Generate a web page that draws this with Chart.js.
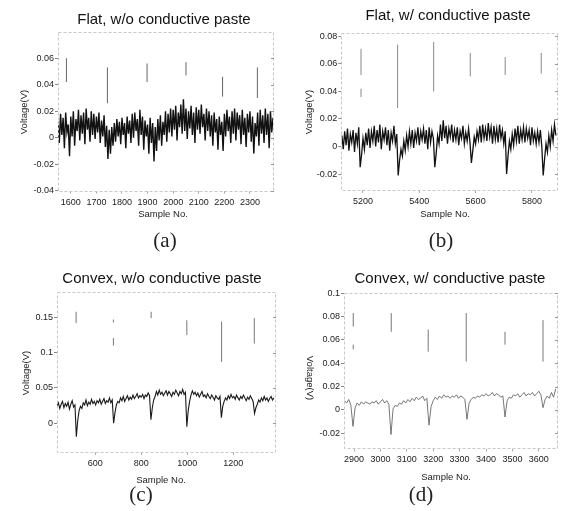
<!DOCTYPE html>
<html><head><meta charset="utf-8">
<script src="https://cdn.jsdelivr.net/npm/chart.js@4/dist/chart.umd.min.js"></script>
<style>
body{margin:0;background:#fff;width:563px;height:511px;position:relative;overflow:hidden;font-family:"Liberation Sans",Arial,sans-serif}
canvas{position:absolute}
.t{position:absolute;transform:translate(-50%,-50%);white-space:nowrap;color:#111;line-height:1}
.title{font-size:15px}
.ax{font-size:9.5px;color:#222}
.vl{transform:translate(-50%,-50%) rotate(-90deg)}
.vr{transform:translate(-50%,-50%) rotate(90deg)}
.lab{font-family:"Liberation Serif","DejaVu Serif",serif;font-size:21px;color:#222}
</style></head>
<body>
<canvas id="ca" width="282" height="250" style="left:0;top:0"></canvas>
<canvas id="cb" width="281" height="250" style="left:282px;top:0"></canvas>
<canvas id="cc" width="282" height="256" style="left:0;top:255px"></canvas>
<canvas id="cd" width="281" height="256" style="left:282px;top:255px"></canvas>

<div class="t title" style="left:164px;top:18px">Flat, w/o conductive paste</div>
<div class="t title" style="left:448px;top:14px">Flat, w/ conductive paste</div>
<div class="t title" style="left:162px;top:277px">Convex, w/o conductive paste</div>
<div class="t title" style="left:450px;top:277px">Convex, w/ conductive paste</div>

<div class="t ax vl" style="left:24px;top:112px">Voltage(V)</div>
<div class="t ax vl" style="left:309px;top:112px">Voltage(V)</div>
<div class="t ax vl" style="left:26px;top:373px">Voltage(V)</div>
<div class="t ax vr" style="left:310px;top:378px">Voltage(V)</div>

<div class="t ax" style="left:163px;top:214px">Sample No.</div>
<div class="t ax" style="left:445px;top:214px">Sample No.</div>
<div class="t ax" style="left:161px;top:480px">Sample No.</div>
<div class="t ax" style="left:446px;top:477px">Sample No.</div>

<div class="t lab" style="left:165px;top:240px">(a)</div>
<div class="t lab" style="left:441px;top:240px">(b)</div>
<div class="t lab" style="left:141px;top:494px">(c)</div>
<div class="t lab" style="left:421px;top:494px">(d)</div>

<script>
// ---------- Panel (a): Flat, w/o conductive paste ----------
const aStart = 1550, aStep = 5;
const aValues = [
0.012,-0.004,0.018,0.002,0.015,-0.008,0.019,0.004,0.010,-0.014,
0.016,0.001,0.020,-0.006,0.014,0.005,0.021,-0.002,0.017,0.003,
0.019,-0.005,0.022,0.006,0.015,-0.003,0.020,0.002,0.018,-0.001,
0.016,0.004,0.019,-0.004,0.013,0.001,0.017,-0.007,0.009,-0.016,
0.006,-0.012,0.008,-0.006,0.011,-0.003,0.014,0.001,0.012,-0.005,
0.015,0.002,0.011,-0.008,0.016,0.003,0.013,-0.004,0.018,0.000,
0.019,0.005,0.014,-0.006,0.021,0.002,0.016,-0.009,0.013,0.001,
0.010,-0.012,0.015,-0.004,0.011,-0.018,0.008,-0.010,0.014,-0.002,
0.017,-0.006,0.012,0.002,0.020,-0.003,0.018,0.004,0.022,0.001,
0.021,0.006,0.024,-0.002,0.019,0.008,0.025,0.003,0.029,0.005,
0.022,-0.001,0.020,0.007,0.024,0.002,0.019,-0.004,0.023,0.006,
0.021,0.003,0.025,0.008,0.018,-0.002,0.022,0.005,0.020,0.001,
0.017,-0.006,0.019,0.004,0.014,-0.009,0.016,0.002,0.012,-0.010,
0.018,0.001,0.021,0.005,0.016,-0.004,0.020,0.003,0.022,-0.002,
0.019,0.006,0.017,-0.005,0.021,0.002,0.015,-0.007,0.018,0.004,
0.020,-0.003,0.016,-0.012,0.011,0.001,0.019,-0.006,0.021,0.003,
0.017,-0.004,0.022,0.002,0.018,-0.008,0.020,0.004,0.015
];
const aSpikes = [[1583,0.042,0.060],[1743,0.026,0.053],[1898,0.042,0.056],[2050,0.047,0.057],[2193,0.031,0.046],[2329,0.030,0.053]];
const aXTicks = [1600,1700,1800,1900,2000,2100,2200,2300];
const aYTicks = [-0.04,-0.02,0,0.02,0.04,0.06];

// ---------- Panel (b): Flat, w/ conductive paste ----------
const bStart = 5125, bStep = 5;
const bValues = [
0.008,-0.002,0.011,0.001,0.013,-0.003,0.009,0.003,0.012,-0.004,
0.010,0.002,0.014,-0.015,-0.006,0.006,-0.002,0.010,0.001,0.013,
-0.001,0.011,0.004,0.015,0.000,0.012,0.003,0.016,-0.002,0.011,
0.005,0.014,0.001,0.012,-0.003,0.010,0.004,0.015,0.002,0.009,
-0.021,-0.010,-0.002,-0.007,0.004,-0.003,0.008,0.000,0.011,0.002,
0.012,-0.001,0.010,0.004,0.014,0.001,0.011,0.005,0.013,0.002,
0.012,-0.002,0.014,0.003,0.011,0.006,-0.015,-0.005,0.008,0.002,
0.016,0.004,0.019,0.006,0.015,0.002,0.013,0.007,0.016,0.003,
0.012,0.005,0.014,0.001,0.011,0.006,0.015,0.002,0.010,0.004,
0.013,0.003,-0.012,-0.003,0.007,0.002,0.011,0.005,0.015,0.003,
0.016,0.006,0.013,0.004,0.017,0.007,0.014,0.002,0.015,0.005,
0.013,0.003,0.016,0.006,0.012,0.002,0.011,-0.020,-0.007,0.004,
-0.002,0.009,0.001,0.013,0.004,0.015,0.002,0.012,0.005,0.014,
0.003,0.013,0.006,0.012,0.001,0.014,0.004,0.010,0.002,0.011,
0.003,0.012,0.000,-0.021,-0.009,0.002,-0.004,0.008,0.000,0.012,
0.004,0.016,0.008
];
const bSpikes = [[5193,0.052,0.071],[5193,0.036,0.042],[5323,0.028,0.074],[5451,0.040,0.076],[5581,0.051,0.068],[5705,0.052,0.065],[5833,0.053,0.068]];
const bXTicks = [5200,5400,5600,5800];
const bYTicks = [-0.02,0,0.02,0.04,0.06,0.08];

// ---------- Panel (c): Convex, w/o conductive paste ----------
const cStart = 434, cStep = 6;
const cValues = [
0.024,0.029,0.021,0.027,0.031,0.022,0.028,0.024,0.030,0.020,0.027,0.032,0.023,0.026,
-0.019,
0.004,0.018,0.024,0.021,0.029,
0.026,0.033,0.025,0.030,0.027,0.034,0.028,0.031,0.026,0.032,
0.029,0.034,0.027,0.031,0.035,0.028,0.032,0.030,0.036,0.029,0.033,
0.000,
0.015,0.026,0.031,0.029,0.036,0.032,0.038,0.031,
0.035,0.039,0.033,0.037,0.034,0.040,0.035,0.038,0.042,0.036,
0.039,0.037,0.041,0.035,0.040,0.038,0.043,0.039,
0.005,
0.022,0.033,0.038,0.045,0.040,0.047,0.041,0.044,0.039,0.043,0.046,
0.040,0.045,0.042,0.038,0.044,0.041,0.047,0.043,0.039,0.045,0.042,0.048,0.041,0.044,
-0.005,
0.018,0.031,0.040,0.046,0.041,
0.044,0.039,0.043,0.037,0.041,0.045,0.038,0.040,0.036,0.042,0.038,0.035,0.040,0.037,0.033,0.039,0.036,0.034,0.038,
0.008,
0.024,0.031,0.036,0.033,0.039,0.035,0.041,0.036,0.038,0.034,0.040,0.036,0.033,0.038,0.035,0.040,0.036,0.032,0.037,0.034,0.039,0.035,0.031,
0.014,
0.022,0.027,0.033,0.030,0.036,0.032,0.038,0.033,0.036,0.031,0.035,0.038,0.033,0.036
];
const cSpikes = [[517,0.142,0.158],[679,0.143,0.147],[679,0.110,0.121],[843,0.149,0.158],[998,0.125,0.146],[1149,0.087,0.144],[1291,0.113,0.149]];
const cXTicks = [600,800,1000,1200];
const cYTicks = [0,0.05,0.1,0.15];

// ---------- Panel (d): Convex, w/ conductive paste ----------
const dStart = 2864, dStep = 8;
const dValues = [
0.008,0.006,0.009,0.004,
-0.014,
0.002,0.006,0.004,0.007,0.005,0.007,0.006,0.005,0.007,0.006,0.008,0.005,0.007,0.009,0.006,0.008,0.005,
-0.021,
0.001,0.004,0.003,0.006,0.005,0.008,0.006,0.009,0.007,0.010,0.008,0.011,0.009,0.010,0.012,0.008,0.010,
-0.013,
0.003,0.008,0.011,0.009,0.012,0.010,0.013,0.011,0.012,0.010,0.012,0.011,0.013,0.010,0.012,0.011,0.009,
-0.008,
0.006,0.009,0.011,0.010,0.012,0.011,0.013,0.012,0.014,0.012,0.013,0.015,0.012,0.014,0.013,0.011,0.012,
-0.006,
0.008,0.011,0.010,0.013,0.012,0.014,0.011,0.013,0.015,0.012,0.014,0.013,0.015,0.012,0.014,0.016,0.013,
0.002,
0.009,0.012,0.010,0.015,0.011,0.018
];
const dSpikes = [[2897,0.0715,0.083],[2897,0.052,0.056],[3041,0.067,0.083],[3181,0.050,0.069],[3325,0.0415,0.083],[3472,0.056,0.067],[3616,0.0415,0.077]];
const dXTicks = [2900,3000,3100,3200,3300,3400,3500,3600];
const dYTicks = [-0.02,0,0.02,0.04,0.06,0.08,0.1];

// ---------- drawing ----------
const FONT = '"Liberation Sans", Arial, sans-serif';
const fmt = v => String(Number(Number(v).toFixed(4)));

const boxPlugin = {
  id: 'box',
  afterDraw(chart) {
    const {ctx, chartArea: a} = chart;
    ctx.save();
    ctx.strokeStyle = '#c8c8c8';
    ctx.lineWidth = 1;
    ctx.setLineDash([3, 2]);
    ctx.strokeRect(Math.round(a.left) + 0.5, Math.round(a.top) + 0.5, Math.round(a.width), Math.round(a.height));
    ctx.setLineDash([]);
    ctx.strokeStyle = '#999';
    const ys = chart.scales.y;
    ys.ticks.forEach(t => {
      const y = Math.round(ys.getPixelForValue(t.value)) + 0.5;
      ctx.beginPath();
      ctx.moveTo(a.right - 2, y);
      ctx.lineTo(a.right + 1, y);
      ctx.stroke();
    });
    ctx.restore();
  }
};

function panel(id, p) {
  new Chart(document.getElementById(id), {
    type: 'line',
    data: {
      datasets: [
        {
          data: p.values.map((v, i) => ({x: p.start + i * p.step, y: v})),
          borderColor: p.lineColor, borderWidth: p.lineWidth,
          pointRadius: 0, tension: 0
        },
        {
          data: p.spikes.flatMap(s => [{x: s[0], y: s[1]}, {x: s[0], y: s[2]}, {x: s[0], y: null}]),
          borderColor: p.spikeColor, borderWidth: 1,
          pointRadius: 0, spanGaps: false
        }
      ]
    },
    options: {
      responsive: false, animation: false, events: [],
      layout: {padding: {left: 0, right: p.padR, top: p.padT, bottom: 0}},
      plugins: {legend: {display: false}, tooltip: {enabled: false}},
      scales: {
        x: {
          type: 'linear', min: p.xMin, max: p.xMax,
          afterBuildTicks: ax => { ax.ticks = p.xTicks.map(v => ({value: v})); },
          afterFit: ax => { ax.height = p.xH; },
          border: {display: false},
          grid: {display: true, drawOnChartArea: false, drawTicks: true, tickLength: 3, color: '#aaa'},
          ticks: {font: {family: FONT, size: 9}, color: '#222', padding: 3, maxRotation: 0, autoSkip: false, callback: v => fmt(v)}
        },
        y: {
          type: 'linear', min: p.yMin, max: p.yMax,
          afterBuildTicks: ax => { ax.ticks = p.yTicks.map(v => ({value: v})); },
          afterFit: ax => { ax.width = p.yW; },
          border: {display: false},
          grid: {display: true, drawOnChartArea: false, drawTicks: true, tickLength: 3, color: '#888'},
          ticks: {font: {family: FONT, size: 9}, color: '#222', padding: 1, autoSkip: false, callback: v => fmt(v)}
        }
      }
    },
    plugins: [boxPlugin]
  });
}

panel('ca', {values: aValues, start: aStart, step: aStep, spikes: aSpikes, xTicks: aXTicks, yTicks: aYTicks,
  xMin: 1550, xMax: 2390, yMin: -0.04, yMax: 0.08, yW: 58, padR: 9, padT: 31.7, xH: 59.3,
  lineColor: '#111', lineWidth: 1.4, spikeColor: '#666'});
panel('cb', {values: bValues, start: bStart, step: bStep, spikes: bSpikes, xTicks: bXTicks, yTicks: bYTicks,
  xMin: 5123, xMax: 5889, yMin: -0.0316, yMax: 0.0825, yW: 59.3, padR: 6, padT: 33, xH: 60,
  lineColor: '#111', lineWidth: 1.3, spikeColor: '#888'});
panel('cc', {values: cValues, start: cStart, step: cStep, spikes: cSpikes, xTicks: cXTicks, yTicks: cYTicks,
  xMin: 434, xMax: 1381, yMin: -0.0407, yMax: 0.186, yW: 57, padR: 7, padT: 37, xH: 59,
  lineColor: '#1a1a1a', lineWidth: 1.1, spikeColor: '#777'});
panel('cd', {values: dValues, start: dStart, step: dStep, spikes: dSpikes, xTicks: dXTicks, yTicks: dYTicks,
  xMin: 2862, xMax: 3669, yMin: -0.033, yMax: 0.1, yW: 62, padR: 6, padT: 38.3, xH: 62.5,
  lineColor: '#555', lineWidth: 0.8, spikeColor: '#777'});
</script>
</body></html>
